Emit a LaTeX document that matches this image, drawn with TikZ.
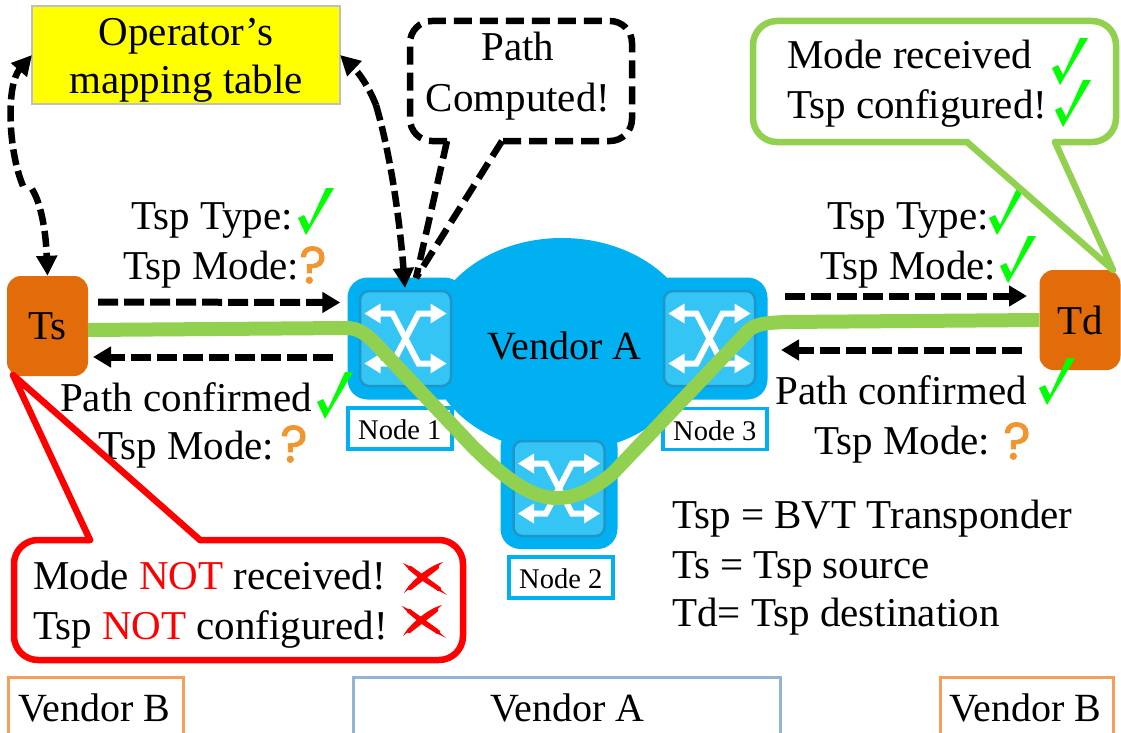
\documentclass[tikz,border=0pt]{standalone}
\usepackage{fontspec}
\setmainfont{Liberation Serif}
\newfontfamily\qfont[FakeBold=1.5]{Poppins}
\usetikzlibrary{arrows.meta,shapes.geometric}
\definecolor{swout}{HTML}{00B0F0}
\definecolor{swin}{HTML}{35C5F5}
\definecolor{swedge}{HTML}{1E96CC}
\definecolor{tsporange}{HTML}{E36C0A}
\definecolor{pathgreen}{HTML}{92D050}
\definecolor{qorange}{HTML}{F0962E}
\definecolor{chkgreen}{HTML}{00FF00}
\definecolor{vborder}{HTML}{F79E5A}
\definecolor{aborder}{HTML}{95B3D7}
\definecolor{tabley}{HTML}{FFFF00}
\definecolor{redx}{HTML}{FF0000}
\tikzset{
  x=1pt,y=-1pt,
  big/.style={font=\fontsize{41}{41}\selectfont,inner sep=0pt,anchor=base west},
  bigc/.style={font=\fontsize{41}{41}\selectfont,inner sep=0pt,anchor=base},
  vend/.style={font=\fontsize{40}{40}\selectfont,inner sep=0pt,anchor=base west},
  small/.style={font=\fontsize{28.5}{28.5}\selectfont,inner sep=0pt,anchor=base west},
  swouter/.style={draw=none,fill=swout,rounded corners=20pt,minimum width=117pt,minimum height=122pt,inner sep=0pt},
  swinner/.style={draw=swedge,line width=2.5pt,fill=swin,rounded corners=9pt,minimum width=91pt,minimum height=95pt,inner sep=0pt},
  tspbox/.style={fill=tsporange,rounded corners=14pt,minimum width=81pt,minimum height=100pt,inner sep=0pt,font=\fontsize{41}{41}\selectfont},
  labelbox/.style={draw=swout,line width=3.5pt,fill=white,minimum width=104pt,minimum height=41pt,inner sep=0pt},
  frame/.style={line width=3pt},
  dasharrow/.style={line width=7pt,dash pattern=on 20pt off 6pt,-{Triangle[length=18pt,width=20pt]}},
  dashone/.style={line width=6.5pt,dash pattern=on 16pt off 6pt,-{Triangle[length=20pt,width=20pt]}},
  callout/.style={line width=6.5pt,line join=round,line cap=round},
  qmark/.style={font=\qfont\fontsize{52}{52}\selectfont,text=qorange,inner sep=0pt,anchor=center},
  chk/.pic={\fill[chkgreen] (0,0) -- (-8,-17) -- (-2,-20) -- (3,-10) -- (20,-47) -- (28,-47) -- cycle;},
  xmk/.pic={\fill[redx] (-21,-15) .. controls (-5,-8) and (8,4) .. (23,17) .. controls (5,8) and (-8,0) .. (-21,-15) -- cycle;
            \fill[redx] (19,-16) .. controls (8,-6) and (-8,5) .. (-20,15) .. controls (-14,4) and (4,-12) .. (19,-16) -- cycle;
            \draw[redx,line width=4.5pt,line cap=round] (-14,-10) -- (15,11) (13,-11) -- (-14,10);},
  swicon/.pic={
    \begin{scope}[white,line width=6pt,line join=miter]
      \draw (-26,-25) -- (-13,-25) -- (13,25) -- (26,25);
      \draw (26,-25) -- (13,-25) -- (-13,25) -- (-26,25);
    \end{scope}
    \fill[white] (41,-25) -- (25,-35) -- (25,-15) -- cycle;
    \fill[white] (41,25) -- (25,15) -- (25,35) -- cycle;
    \fill[white] (-41,-25) -- (-25,-35) -- (-25,-15) -- cycle;
    \fill[white] (-41,25) -- (-25,15) -- (-25,35) -- cycle;
  },
}
\begin{document}
\begin{tikzpicture}
\useasboundingbox (0,0) rectangle (1121,733);
\fill[white] (0,0) rectangle (1121,733);

% bottom vendor frames
\draw[vborder,frame] (8,733) -- (8,677) -- (183,677) -- (183,733);
\draw[aborder,frame] (353,733) -- (353,677) -- (780,677) -- (780,733);
\draw[vborder,frame] (940,733) -- (940,677) -- (1113,677) -- (1113,733);
\node[vend] (vb1) at (18,721) {Vendor B};
\node[vend] (va2) at (490,721) {Vendor A};
\node[vend] (vb2) at (949,721) {Vendor B};

% yellow table
\node[draw=black!25,line width=1.5pt,fill=tabley,minimum width=308pt,minimum height=98pt,inner sep=0pt] (table) at (186,55) {};
\node[bigc] (t1) at (186,46) {Operator’s};
\node[bigc] (t2) at (186,94) {mapping table};

% vendor cloud and switches
\node[ellipse,fill=swout,draw=none,minimum width=270pt,minimum height=214pt,inner sep=0pt] (cloud) at (562,345) {};
\node[swouter] (s1o) at (406,338.5) {};
\node[swouter] (s3o) at (709,338.5) {};
\node[swouter] (s2o) at (559,488) {};
\node[swinner] (s1) at (405.5,338.5) {};
\node[swinner] (s3) at (709.5,338.5) {};
\node[swinner] (s2) at (559,488.5) {};
\pic at (s1) {swicon};
\pic at (s3) {swicon};
\pic at (s2) {swicon};
\node[vend] (cloudlbl) at (487,359) {Vendor A};

% node labels
\node[labelbox] (l1) at (400,428.5) {};
\node[small] (l1t) at (358,439) {Node 1};
\node[labelbox] (l3) at (715,429) {};
\node[small] (l3t) at (673,440) {Node 3};
\node[labelbox] (l2) at (561,577.5) {};
\node[small] (l2t) at (519,588) {Node 2};

% transponders
\node[tspbox] (ts) at (47.5,326) {Ts};
\node[tspbox] (td) at (1080,320) {Td};

% light path
\coordinate (pa) at (88,330);
\draw[pathgreen,line width=14pt] (pa) -- (345,328)
  .. controls (358,328) and (365,333) .. (375,343)
  -- (473,447)
  .. controls (505,478) and (530,498) .. (557,498)
  .. controls (580,498) and (600,484) .. (613,473)
  -- (747,332)
  .. controls (755,323) and (768,323) .. (785,322)
  -- (td.west);

% labels beside the links
\node[big] (a1) at (131,229) {Tsp Type:};
\node[big] (a2) at (123,279) {Tsp Mode:};
\node[big] (a3) at (60,411) {Path confirmed};
\node[big] (a4) at (98,459) {Tsp Mode:};
\node[big] (b1) at (827,229) {Tsp Type:};
\node[big] (b2) at (820,279) {Tsp Mode:};
\node[big] (b3) at (775,404) {Path confirmed};
\node[big] (b4) at (814,454) {Tsp Mode:};
% legend
\node[big] (k1) at (672,528) {Tsp = BVT Transponder};
\node[big] (k2) at (672,578) {Ts = Tsp source};
\node[big] (k3) at (672,626) {Td= Tsp destination};

% question marks
\node[qmark] (q1) at (313,265) {?};
\node[qmark] (q2) at (294,444) {?};
\node[qmark] (q3) at (1017,441) {?};

% ticks and crosses
\pic at (306,235) {chk};
\pic at (325,419) {chk};
\pic at (1060,85) {chk};
\pic at (1063,127) {chk};
\pic at (997,235) {chk};
\pic at (1008,283) {chk};
\pic at (1047,405) {chk};
\pic at (424,578) {xmk};
\pic at (423,621) {xmk};

% green callout
\draw[pathgreen,callout,rounded corners=24pt] (967,142) -- (753,142) -- (753,21) -- (1116,21) -- (1116,142) -- (1055,142);
\draw[pathgreen,callout] (967,142) -- (1113,270) -- (1055,142);
\node[big] (g1) at (787,69) {Mode received};
\node[big] (g2) at (787,119) {Tsp configured!};

% path computed callout
\draw[callout,line cap=butt,dash pattern=on 18pt off 8pt,rounded corners=22pt] (447,141) -- (410,141) -- (410,21) -- (632,21) -- (632,141) -- (502,141);
\draw[callout,line cap=butt,dash pattern=on 18pt off 8pt] (447,141) -- (416,278);
\draw[callout,line cap=butt,dash pattern=on 18pt off 8pt] (502,141) -- (416,278);
\node[bigc] (pc1) at (518,61) {Path};
\node[bigc] (pc2) at (518,112) {Computed!};

% red callout
\draw[red,callout,rounded corners=24pt] (90,540) -- (14,540) -- (14,660) -- (463,660) -- (463,540) -- (200,540);
\draw[red,callout] (90,540) -- (13,375) -- (200,540);
\node[big] (r1) at (33,589) {Mode \textcolor{red}{NOT} received!};
\node[big] (r2) at (33,639) {Tsp \textcolor{red}{NOT} configured!};

% dashed arrows
\draw[dasharrow] ([shift={(10,-24)}]ts.east) -- ([shift={(-7,-36)}]s1o.west);
\coordinate (tse) at (93,357);
\coordinate (s1w) at (333,357);
\draw[dasharrow] (s1w) -- (tse);
\coordinate (s3e) at (785,296);
\coordinate (tdw) at (1027,296);
\draw[dasharrow] (s3e) -- (tdw);
\coordinate (tdw2) at (1022,350);
\coordinate (s3e2) at (781,350);
\draw[dasharrow] (tdw2) -- (s3e2);

\coordinate (tbl) at (32,55);
\coordinate (kinkup) at (23,186);
\coordinate (kinklo) at (32,189);
\draw[dashone] (kinkup) .. controls (8,150) and (6,85) .. (tbl);
\draw[dashone] (kinklo) .. controls (42,205) and (46,235) .. (ts.north);
\coordinate (tbr) at (340,55);
\coordinate (s1t) at (405,288);
\draw[dashone] (376,105) .. controls (368,85) and (358,72) .. (tbr);
\draw[dashone] (376,105) .. controls (392,160) and (400,225) .. (s1t);
\end{tikzpicture}
\end{document}
